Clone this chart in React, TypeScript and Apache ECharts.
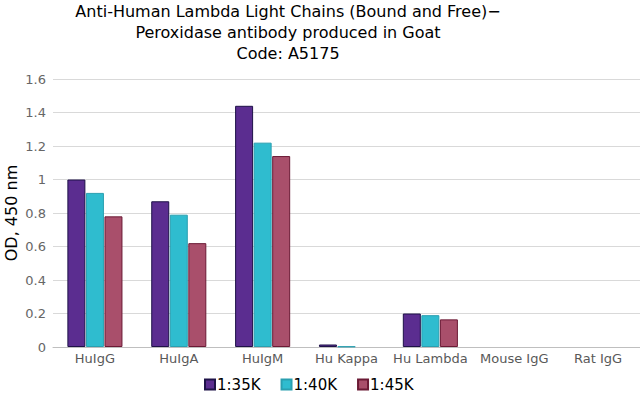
import React, { useEffect, useRef } from "react";
import * as echarts from "echarts";

const categories = ["HuIgG", "HuIgA", "HuIgM", "Hu Kappa", "Hu Lambda", "Mouse IgG", "Rat IgG"];
const s35 = [1.0, 0.87, 1.44, 0.015, 0.2, 0, 0];
const s40 = [0.92, 0.79, 1.22, 0.003, 0.19, 0, 0];
const s45 = [0.78, 0.62, 1.14, -0.005, 0.165, 0, 0];
const seriesNames = ["1:35K", "1:40K", "1:45K"];
const yTicks = { min: 0, max: 1.6, interval: 0.2 };

const FONT = "'DejaVu Sans', Verdana, sans-serif";

export default function App() {
  const ref = useRef<HTMLDivElement>(null);
  useEffect(() => {
    document.body.style.margin = "0";
    if (!ref.current) return;
    const chart = echarts.init(ref.current, undefined, { renderer: "svg" });
    const fills = ["#5b2d90", "#2fbccf", "#a94f6b"];
    const borders = ["#1e1248", "#2a9fb0", "#6b1a35"];
    const data = [s35, s40, s45];
    chart.setOption({
      animation: false,
      backgroundColor: "#ffffff",
      textStyle: { fontFamily: FONT },
      title: {
        text: "Anti-Human Lambda Light Chains (Bound and Free)\u2212\nPeroxidase antibody produced in Goat\nCode: A5175",
        left: 283,
        top: -4,
        textAlign: "center",
        textStyle: {
          fontFamily: FONT,
          fontSize: 16,
          fontWeight: "normal",
          color: "#000000",
          lineHeight: 21,
        },
      },
      legend: {
        left: 199,
        top: 372,
        icon: "rect",
        itemWidth: 10,
        itemHeight: 10,
        itemGap: 20,
        textStyle: { fontFamily: FONT, fontSize: 15, color: "#000000", padding: [0, 0, 0, -3] },
        data: seriesNames,
      },
      grid: { left: 53, right: 0, top: 79, bottom: 46, containLabel: false, outerBoundsMode: "none" },
      xAxis: {
        type: "category",
        data: categories,
        axisLine: { show: true, lineStyle: { color: "#bfbfbf", width: 1 } },
        axisTick: { show: false },
        axisLabel: { color: "#595959", fontSize: 13, fontFamily: FONT, margin: 5, interval: 0 },
      },
      yAxis: {
        type: "value",
        min: yTicks.min,
        max: yTicks.max,
        interval: yTicks.interval,
        name: "OD, 450 nm",
        nameLocation: "middle",
        nameGap: 34,
        nameMoveOverlap: false,
        nameRotate: 90,
        nameTextStyle: { fontFamily: FONT, fontSize: 16, color: "#000000" },
        axisLine: { show: false },
        axisTick: { show: false },
        splitLine: { lineStyle: { color: "#d9d9d9", width: 1 } },
        axisLabel: {
          color: "#666666",
          fontSize: 13,
          fontFamily: FONT,
          margin: 7,
          formatter: (v: number) => String(Math.round(v * 10) / 10),
        },
      },
      series: seriesNames.map((name, i) => ({
        name,
        type: "bar",
        data: data[i].map((v) =>
          v === 0 ? { value: v, itemStyle: { borderWidth: 0 } } : v
        ),
        barWidth: 18,
        barGap: "3%",
        itemStyle: { color: fills[i], borderColor: borders[i], borderWidth: 1 },
      })),
    });
    return () => chart.dispose();
  }, []);
  return <div ref={ref} style={{ width: 640, height: 393 }} />;
}
